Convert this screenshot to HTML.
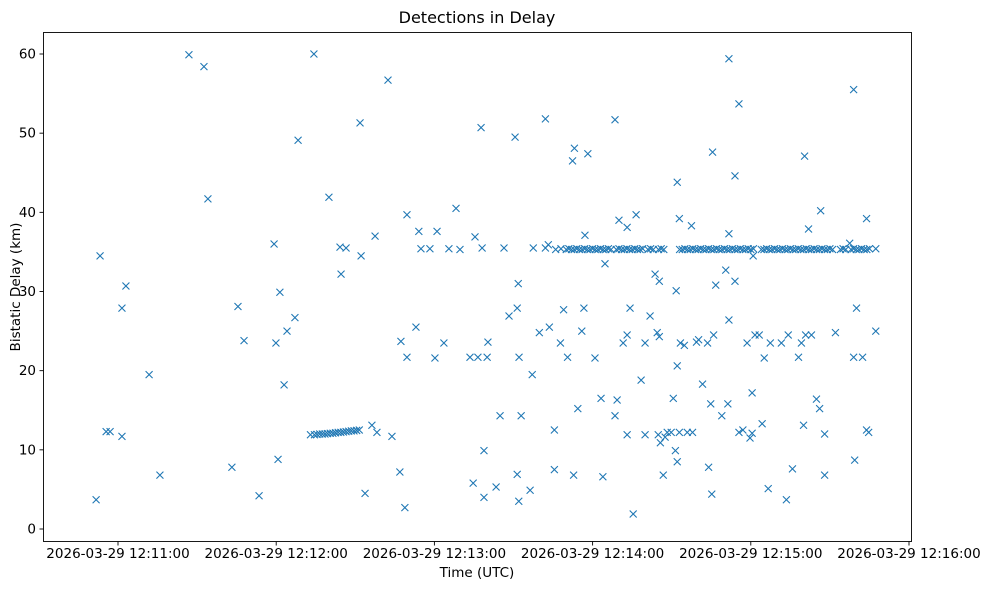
<!DOCTYPE html>
<html><head><meta charset="utf-8"><style>
html,body{margin:0;padding:0;background:#fff;}
svg{display:block;font-family:"DejaVu Sans","Liberation Sans",sans-serif;}
</style></head><body>
<svg id="chart" width="989" height="590" viewBox="0 0 989 590" xmlns="http://www.w3.org/2000/svg">
<rect x="0" y="0" width="989" height="590" fill="#fff"/>
<text x="477" y="23" font-size="16" text-anchor="middle">Detections in Delay</text>
<g id="marks"></g>
<g id="axes"></g>
<rect x="43.5" y="32.5" width="868" height="509" fill="none" stroke="#000" stroke-width="0.9"/>
<text x="477" y="577" font-size="13.5" text-anchor="middle">Time (UTC)</text>
<text x="20" y="287" font-size="13.5" text-anchor="middle" transform="rotate(-90 20 287)">Bistatic Delay (km)</text>
</svg>
<script>
// seconds after 2026-03-29 12:11:00 UTC
const times = [-8.3,-6.8,-4.5,-3.0,1.5,1.5,3.0,11.8,15.9,26.9,32.6,34.1,43.2,45.5,47.8,53.5,59.2,59.9,60.7,61.4,63.0,64.1,67.1,68.3,74.3,80.0,84.2,84.6,86.5,91.8,92.2,93.7,96.3,97.5,98.2,102.4,103.9,106.9,107.3,108.8,109.6,109.6,113.0,114.1,114.9,118.3,120.2,121.0,123.6,125.5,128.2,129.7,133.5,134.7,135.4,136.5,137.7,138.1,138.8,138.8,140.0,140.3,143.4,144.9,146.4,148.3,150.6,151.4,151.8,151.4,152.0,152.1,152.9,156.3,157.1,157.5,159.8,162.1,162.1,163.6,163.2,165.5,165.5,167.8,169.0,170.5,172.4,173.1,172.8,174.4,175.9,176.7,177.1,178.2,180.9,183.2,183.9,184.7,188.5,188.5,189.3,190.0,191.6,193.1,193.1,193.1,194.2,195.4,196.5,198.4,199.9,199.9,201.8,203.7,204.5,204.9,205.3,205.7,205.3,206.8,207.5,208.3,209.8,210.6,211.4,211.7,212.1,212.1,212.1,212.9,212.9,213.3,214.8,215.9,217.5,217.9,219.4,220.2,221.7,223.6,224.0,224.8,225.2,225.5,225.9,226.7,229.0,230.5,231.3,231.7,231.7,231.7,234.0,234.0,235.5,235.5,237.0,238.6,239.7,240.5,240.5,240.9,241.6,243.2,244.3,245.1,246.6,247.4,251.6,253.5,254.2,255.8,258.1,259.2,260.0,260.4,260.8,261.9,263.0,264.9,266.1,266.5,268.0,268.0,272.1,277.5,279.0,279.4,280.1,279.0,282.4,283.9,283.9,284.7,287.4,287.4,
73,74.5,75.5,76.5,77.5,78.5,79.5,80.5,81.5,82.5,83.5,84.5,85.5,86.5,87.5,88.5,89.5,90.5,91.5,
166,168,170,171,172,173,174,175,176,177,178,179,180,181,182,183,184,185,186,187,189,190,191,192,193,194,195,196,197,198,199,201,202,203,205,206,207,213,214,215,216,217,218,219,220,221,222,223,224,225,226,227,228,229,230,231,232,233,234,235,236,237,238,239,240,241,244,245,246,247,248,249,250,251,252,253,254,255,256,257,258,259,260,261,262,263,264,265,266,267,268,269,270,271,274,275,276,278,279,280,281,282,283,284,285];
const delays = [3.7,34.5,12.3,12.3,11.7,27.9,30.7,19.5,6.8,59.9,58.4,41.7,7.8,28.1,23.8,4.2,36.0,23.5,8.8,29.9,18.2,25.0,26.7,49.1,60.0,41.9,35.6,32.2,35.5,51.3,34.5,4.5,13.1,37.0,12.2,56.7,11.7,7.2,23.7,2.7,39.7,21.7,25.5,37.6,35.4,35.4,21.6,37.6,23.5,35.4,40.5,35.3,21.7,5.8,36.9,21.7,50.7,35.5,9.9,4.0,21.7,23.6,5.3,14.3,35.5,26.9,49.5,27.9,31.0,6.9,3.5,21.7,14.3,4.9,19.5,35.5,24.8,51.8,35.5,25.5,35.9,12.5,7.5,23.5,27.7,21.7,46.5,48.1,6.8,15.2,25.0,27.9,37.1,47.4,21.6,16.5,6.6,33.5,51.7,14.3,16.3,39.0,23.5,38.1,11.9,24.5,27.9,1.9,39.7,18.8,23.5,11.9,26.9,32.2,24.8,11.9,24.3,10.9,31.3,6.8,11.6,12.2,12.2,16.5,9.9,30.1,20.6,8.5,43.8,39.2,12.2,23.5,23.2,12.2,38.3,12.2,23.6,23.9,18.3,23.5,7.8,15.8,4.4,47.6,24.5,30.8,14.3,32.7,15.8,37.3,59.4,26.4,44.6,31.3,53.7,12.2,12.5,23.5,11.5,17.2,12.1,34.5,24.5,24.5,13.3,21.6,5.1,23.5,23.5,3.7,24.5,7.6,21.7,23.5,13.1,47.1,24.5,37.9,24.5,16.4,15.2,40.2,12.0,6.8,24.8,36.1,55.5,8.7,27.9,21.7,21.7,39.2,12.5,12.2,25.0,35.4,
11.9,11.9,11.95,12.0,12.0,12.0,12.05,12.1,12.1,12.15,12.2,12.2,12.25,12.3,12.35,12.4,12.4,12.45,12.5,
35.3,35.4,35.3,35.4,35.3,35.3,35.4,35.3,35.3,35.4,35.3,35.3,35.4,35.3,35.3,35.4,35.3,35.3,35.4,35.3,35.3,35.4,35.3,35.3,35.4,35.3,35.3,35.4,35.3,35.3,35.4,35.3,35.4,35.3,35.3,35.4,35.3,35.3,35.3,35.4,35.3,35.3,35.4,35.3,35.3,35.4,35.3,35.3,35.4,35.3,35.3,35.4,35.3,35.3,35.4,35.3,35.3,35.4,35.3,35.3,35.4,35.3,35.3,35.4,35.3,35.4,35.3,35.3,35.4,35.3,35.3,35.4,35.3,35.3,35.4,35.3,35.3,35.4,35.3,35.3,35.4,35.3,35.3,35.4,35.3,35.3,35.4,35.3,35.3,35.4,35.3,35.3,35.4,35.3,35.3,35.4,35.3,35.3,35.4,35.3,35.3,35.4,35.3,35.3,35.4];
const xTickSeconds = [0,60,120,180,240,300];
const xTickLabels = ["2026-03-29 12:11:00","2026-03-29 12:12:00","2026-03-29 12:13:00","2026-03-29 12:14:00","2026-03-29 12:15:00","2026-03-29 12:16:00"];
const yTicks = [0,10,20,30,40,50,60];

const NS = "http://www.w3.org/2000/svg";
function xScale(s){ return 118 + s * (158.2/60); }
function yScale(v){ return 529 - v * (475/60); }
const marks = document.getElementById('marks');
const axes = document.getElementById('axes');
function mk(tag, attrs){ const e=document.createElementNS(NS,tag); for(const k in attrs) e.setAttribute(k,attrs[k]); return e; }
const n = Math.min(times.length, delays.length);
for(let i=0;i<n;i++){
  const x=xScale(times[i]), y=yScale(delays[i]), r=3.5;
  const p = mk('path',{d:`M${x-r},${y-r}L${x+r},${y+r}M${x-r},${y+r}L${x+r},${y-r}`,stroke:'#1f77b4','stroke-width':'1.1',fill:'none'});
  
  
  marks.appendChild(p);
}
xTickSeconds.forEach((s,i)=>{
  const x=xScale(s);
  const t=mk('line',{x1:x,x2:x,y1:541.5,y2:545.5,stroke:'#000','stroke-width':'0.9'});
  
  
  axes.appendChild(t);
  const l=mk('text',{x:x,y:558,'font-size':'13.5','text-anchor':'middle'});
  
  
  l.textContent=xTickLabels[i];
  axes.appendChild(l);
});
yTicks.forEach(v=>{
  const y=yScale(v);
  const t=mk('line',{x1:39.5,x2:43.5,y1:y,y2:y,stroke:'#000','stroke-width':'0.9'});
  
  
  axes.appendChild(t);
  const l=mk('text',{x:36,y:y+4.5,'font-size':'13.5','text-anchor':'end'});
  
  
  l.textContent=String(v);
  axes.appendChild(l);
});
</script>
</body></html>
